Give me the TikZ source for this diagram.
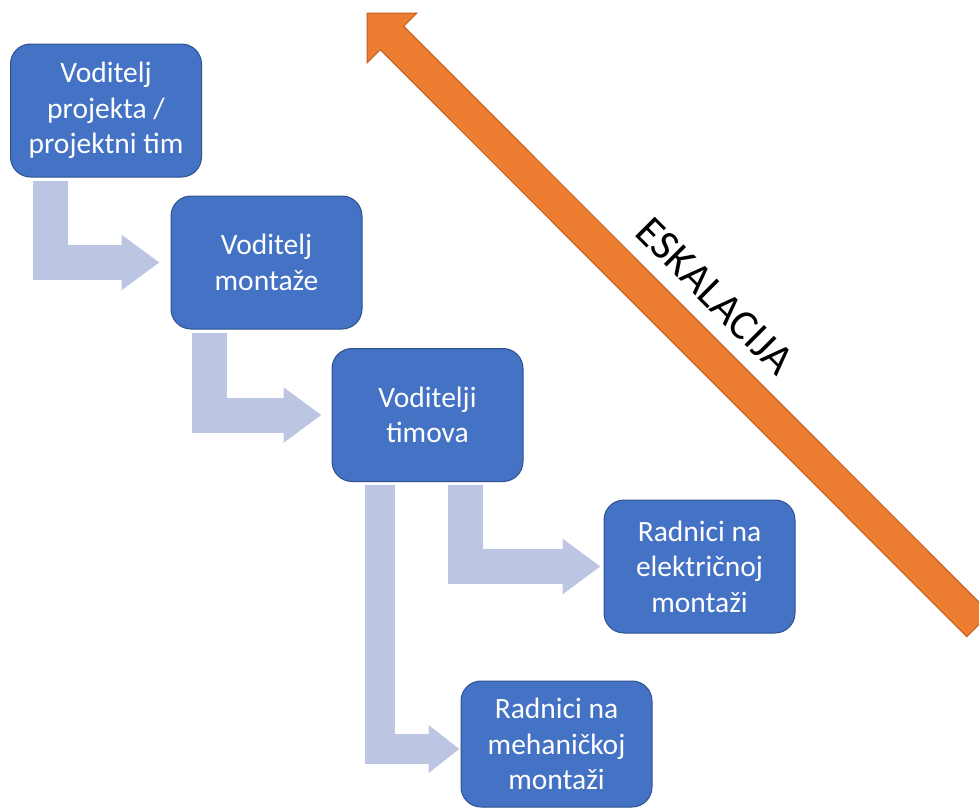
\documentclass[tikz,border=0pt]{standalone}
\usepackage{fontspec}
\setmainfont{Carlito}
\usetikzlibrary{arrows.meta}

\definecolor{boxblue}{RGB}{68,114,196}
\definecolor{boxedge}{RGB}{47,82,143}
\definecolor{linkgray}{RGB}{188,198,226}
\definecolor{eskorange}{RGB}{237,125,49}
\definecolor{eskedge}{RGB}{196,94,30}

\begin{document}
\begin{tikzpicture}
            [x=0.5pt, y=-0.5pt,
            boxnode/.style={rectangle, rounded corners=10pt, draw=boxedge, line width=0.5pt, fill=boxblue, text=white, align=center, minimum width=95.5pt, minimum height=66.5pt, font=\fontsize{14.75pt}{17.7pt}\selectfont},
            link/.style={draw=linkgray, line width=17.5pt, shorten <=1.5pt, -{Triangle[width=26.5pt, length=19pt]}},
            smalllink/.style={draw=linkgray, line width=15pt, shorten <=1.5pt, -{Triangle[width=23pt, length=15.5pt]}},
            esktext/.style={font=\fontsize{21.5pt}{25pt}\selectfont, text=black, inner sep=0pt}]

            \useasboundingbox (0,0) rectangle (979,809);

            \node[boxnode] (vodProj) at (106,110.5) {Voditelj\\projekta /\\projektni tim};
            \node[boxnode] (vodMont) at (266.5,262.5) {Voditelj\\montaže};
            \node[boxnode] (vodTim) at (427.5,415) {Voditelji\\timova};
            \node[boxnode] (radElek) at (699.5,566.5) {Radnici na\\električnoj\\montaži};
            \node[boxnode, minimum height=63pt] (radMeh) at (556.5,744) {Radnici na\\mehaničkoj\\montaži};

            \draw[link, shorten >=5.5pt] ([xshift=20.25pt]vodProj.south west) |- (vodMont.west);
            \draw[link, shorten >=5pt] ([xshift=19.5pt]vodMont.south west) |- (vodTim.west);
            \draw[link, shorten >=1.5pt] ([xshift=66.75pt]vodTim.south west) |- (radElek.west);
            \draw[smalllink, shorten >=0.5pt] ([xshift=24pt]vodTim.south west) |- ([yshift=-2.5pt]radMeh.west);

            % escalation arrow
            \draw[draw=eskedge, line width=0.5pt, fill=eskorange] (367,13) -- (417,13) -- (403.7,26.3) -- (990.2,613.3) -- (966.8,636.7) -- (380.3,49.7) -- (367,63) -- cycle;
            \node[esktext, rotate=-45] (eskLabel) at (715,296) {ESKALACIJA};

        \end{tikzpicture}
\end{document}
